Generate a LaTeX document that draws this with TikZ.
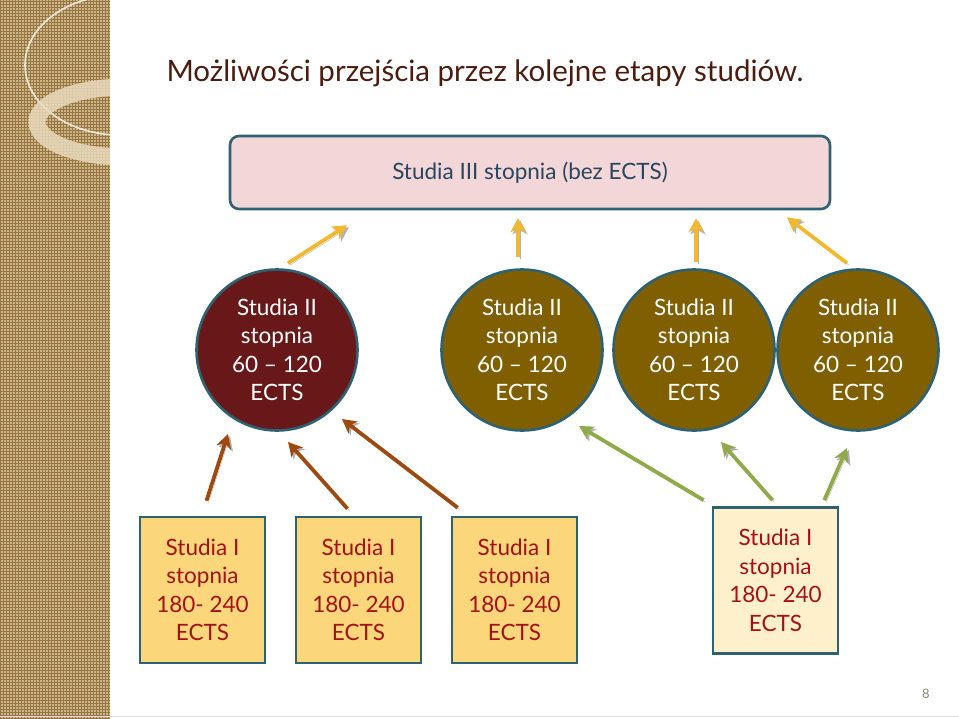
\documentclass[tikz,border=0pt]{standalone}
\usepackage{fontspec}
\setmainfont{Lato}
\usepackage{tikz}
\usetikzlibrary{arrows.meta,patterns,shapes.geometric}

\definecolor{edgeteal}{RGB}{46,98,114}
\definecolor{maroon}{RGB}{104,24,24}
\definecolor{olive}{RGB}{127,95,0}
\definecolor{pinkbox}{RGB}{242,214,216}
\definecolor{boxgold}{RGB}{252,214,122}
\definecolor{boxcream}{RGB}{255,240,204}
\definecolor{txtred}{RGB}{164,18,24}
\definecolor{txtslate}{RGB}{40,70,92}
\definecolor{titlebrown}{RGB}{75,29,16}
\definecolor{arrgold}{RGB}{242,184,46}
\definecolor{arrbrown}{RGB}{156,74,18}
\definecolor{arrgreen}{RGB}{143,170,74}
\definecolor{burlap}{RGB}{206,182,130}
\definecolor{burlapdark}{RGB}{150,118,70}
\definecolor{burlaplight}{RGB}{232,218,188}

\begin{document}
\begin{tikzpicture}[x=1pt,y=-1pt]
\tikzstyle{every node}=[font=\fontsize{22.5}{28.5}\selectfont,align=center]
\tikzstyle{lvlthree}=[rectangle,rounded corners=9pt,draw=edgeteal,line width=2.6pt,fill=pinkbox,minimum width=600pt,minimum height=73pt,text=txtslate]
\tikzstyle{lvltwo}=[circle,draw=edgeteal,line width=2.6pt,minimum size=161pt,inner sep=0pt,text=white]
\tikzstyle{lvlone}=[rectangle,draw=edgeteal,line width=2.6pt,fill=boxgold,minimum width=125pt,minimum height=146pt,text=txtred]
\tikzstyle{up}=[line width=3.8pt,-{Stealth[length=14pt,width=15pt,inset=4pt]},preaction={draw=black!30,transform canvas={xshift=2pt,yshift=-2pt}}]

% background strip
\useasboundingbox (0,0) rectangle (959,718);
\fill[burlap] (0,0) rectangle (110,718);
\fill[pattern=grid,pattern color=burlapdark] (0,0) rectangle (110,718);
\begin{scope}
\clip (0,0) rectangle (110,718);
\draw[white,opacity=0.8,line width=1.6pt] (120,65) ellipse (95 and 70);
\draw[burlaplight,opacity=0.85,line width=17pt] (125,122) ellipse (88 and 35);
\end{scope}
\draw[black!12] (0,716) -- (959,716);

% title
\node[font=\fontsize{29.5}{33}\selectfont,text=titlebrown,anchor=west] (title) at (163,73) {Możliwości przejścia przez kolejne etapy studiów.};

% level III
\node[lvlthree] (t) at (530,172.5) {Studia III stopnia (bez ECTS)};

% level II
\node[lvltwo,fill=maroon] (c1) at (277,350) {Studia II\\stopnia\\60 -- 120\\ECTS};
\node[lvltwo,fill=olive] (c2) at (522,350) {Studia II\\stopnia\\60 -- 120\\ECTS};
\node[lvltwo,fill=olive] (c3) at (694,350) {Studia II\\stopnia\\60 -- 120\\ECTS};
\node[lvltwo,fill=olive] (c4) at (858,350) {Studia II\\stopnia\\60 -- 120\\ECTS};

% level I
\node[lvlone] (b1) at (202.5,590) {Studia I\\stopnia\\180- 240\\ECTS};
\node[lvlone] (b2) at (358.5,590) {Studia I\\stopnia\\180- 240\\ECTS};
\node[lvlone] (b3) at (514.5,590) {Studia I\\stopnia\\180- 240\\ECTS};
\node[lvlone,fill=boxcream] (b4) at (775.5,580.5) {Studia I\\stopnia\\180- 240\\ECTS};

% arrows II -> III
\draw[up,arrgold] ([xshift=11pt,yshift=5pt]c1.north) -- ([xshift=-183pt,yshift=-15pt]t.south);
\draw[up,arrgold] ([xshift=-4pt,yshift=11pt]c2.north) -- ([xshift=-12pt,yshift=-8pt]t.south);
\draw[up,arrgold] ([xshift=2pt,yshift=6pt]c3.north) -- ([xshift=166pt,yshift=-8pt]t.south);
\draw[up,arrgold] ([xshift=-11pt,yshift=5pt]c4.north) -- ([xshift=257pt,yshift=-7pt]t.south);

% arrows I -> II
\draw[up,arrbrown] ([xshift=4pt,yshift=15pt]b1.north) -- ([xshift=-49pt,yshift=-84pt]c1.center);
\draw[up,arrbrown] ([xshift=-11pt,yshift=7pt]b2.north) -- ([xshift=11pt,yshift=-92pt]c1.center);
\draw[up,arrbrown] ([xshift=7pt,yshift=8pt]b3.north west) -- ([xshift=65pt,yshift=-69pt]c1.center);
\draw[up,arrgreen] ([xshift=-8pt,yshift=6pt]b4.north west) -- ([xshift=57pt,yshift=-76pt]c2.center);
\draw[up,arrgreen] ([xshift=-3pt,yshift=6pt]b4.north) -- ([xshift=27pt,yshift=-92pt]c3.center);
\draw[up,arrgreen] ([xshift=-15pt,yshift=6pt]b4.north east) -- ([xshift=-11pt,yshift=-98pt]c4.center);

% page number
\node[font=\fontsize{13}{15}\selectfont,text=black!45!olive!60] (pg) at (926,694) {8};
\end{tikzpicture}
\end{document}
